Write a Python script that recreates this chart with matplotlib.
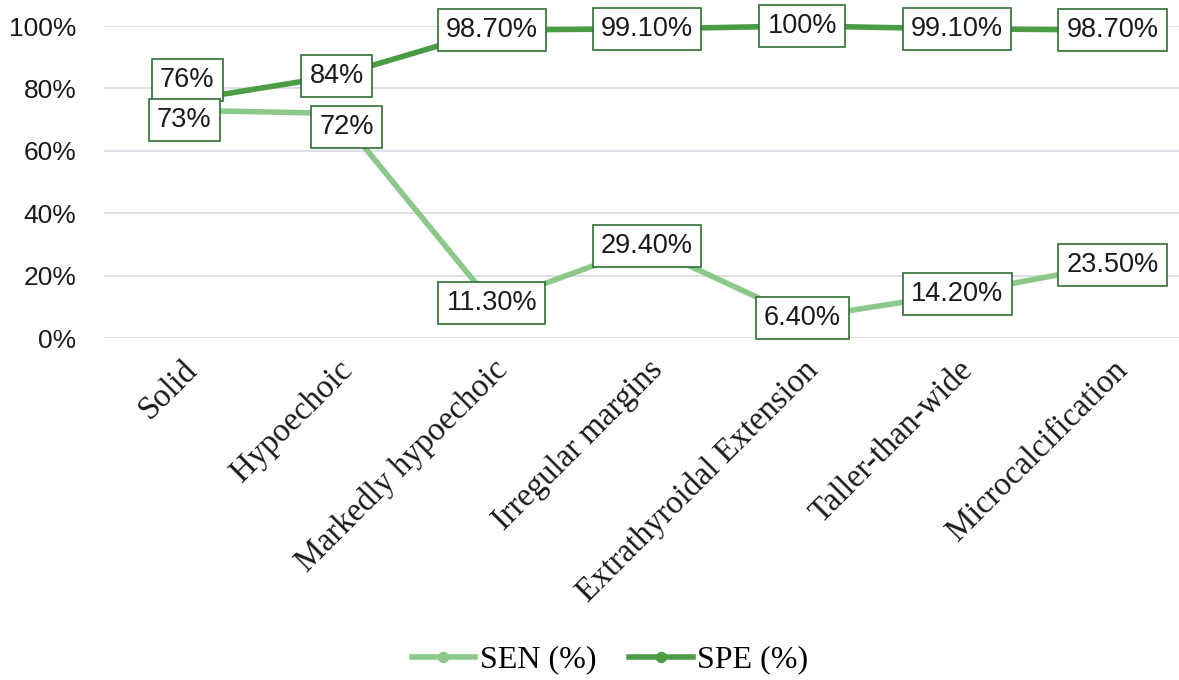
import matplotlib
matplotlib.use("Agg")
import matplotlib.pyplot as plt
import numpy as np

categories = ["Solid", "Hypoechoic", "Markedly hypoechoic", "Irregular margins",
              "Extrathyroidal Extension", "Taller-than-wide", "Microcalcification"]
sen = [73, 72, 11.3, 29.4, 6.4, 14.2, 23.5]
spe = [76, 84, 98.7, 99.1, 100, 99.1, 98.7]
sen_labels = ["73%", "72%", "11.30%", "29.40%", "6.40%", "14.20%", "23.50%"]
spe_labels = ["76%", "84%", "98.70%", "99.10%", "100%", "99.10%", "98.70%"]
yticks = [0, 20, 40, 60, 80, 100]
ytick_labels = ["0%", "20%", "40%", "60%", "80%", "100%"]

sen_color = "#8cc88a"
spe_color = "#4a9d45"
box_edge = "#2f6e33"

W, H = 1179, 680
fig = plt.figure(figsize=(W / 100, H / 100), dpi=100)
left, right = 104, 1190
top, bottom = 26, 338
ax = fig.add_axes([left / W, (H - bottom) / H, (right - left) / W, (bottom - top) / H])

x = np.arange(len(categories))
ax.plot(x, sen, color=sen_color, lw=4, marker="o", ms=8, label="SEN (%)", zorder=3, clip_on=False)
ax.plot(x, spe, color=spe_color, lw=4, marker="o", ms=8, label="SPE (%)", zorder=3, clip_on=False)

ax.set_xlim(-0.5, len(categories) - 0.5)
ax.set_ylim(0, 100)
ax.set_yticks(yticks)
ax.set_yticklabels(ytick_labels, fontfamily="Liberation Sans", fontsize=19, color="#1a1a1a")
ax.set_xticks(x)
ax.set_xticklabels(categories, rotation=45, ha="right", va="top", rotation_mode="anchor",
                   fontfamily="Liberation Serif", fontsize=23.5, color="#1a1a1a")
ax.tick_params(axis="both", length=0)
ax.tick_params(axis="y", pad=20)
ax.tick_params(axis="x", pad=12)
for s in ax.spines.values():
    s.set_visible(False)
ax.grid(axis="y", color="#d6dce4", lw=1.2)
ax.set_axisbelow(True)

bbox = dict(boxstyle="square,pad=0.3", fc="white", ec=box_edge, lw=1.2)
# offsets in points (dx, dy)
spe_off = [(4, 15), (0, 0), (0, 0), (0, 0), (0, 0), (0, 0), (0, 0)]
sen_off = [(2, -7), (7, -10), (0, 0), (0, 0), (0, 0), (0, 0), (0, 0)]
for i in range(len(categories)):
    ax.annotate(spe_labels[i], (x[i], spe[i]), xytext=spe_off[i], textcoords="offset points",
                ha="center", va="center", fontfamily="Liberation Sans", fontsize=19.5,
                color="#1a1a1a", bbox=bbox, zorder=5, annotation_clip=False)
    ax.annotate(sen_labels[i], (x[i], sen[i]), xytext=sen_off[i], textcoords="offset points",
                ha="center", va="center", fontfamily="Liberation Sans", fontsize=19.5,
                color="#1a1a1a", bbox=bbox, zorder=5, annotation_clip=False)

leg = fig.legend(loc="center", bbox_to_anchor=(610 / W, 1 - 660 / H), ncol=2, frameon=False,
                 prop={"family": "Liberation Serif", "size": 23}, handlelength=2.0,
                 handletextpad=0.15, columnspacing=1.0, markerscale=0.9)

fig.savefig("out.png", dpi=100, facecolor="white")
